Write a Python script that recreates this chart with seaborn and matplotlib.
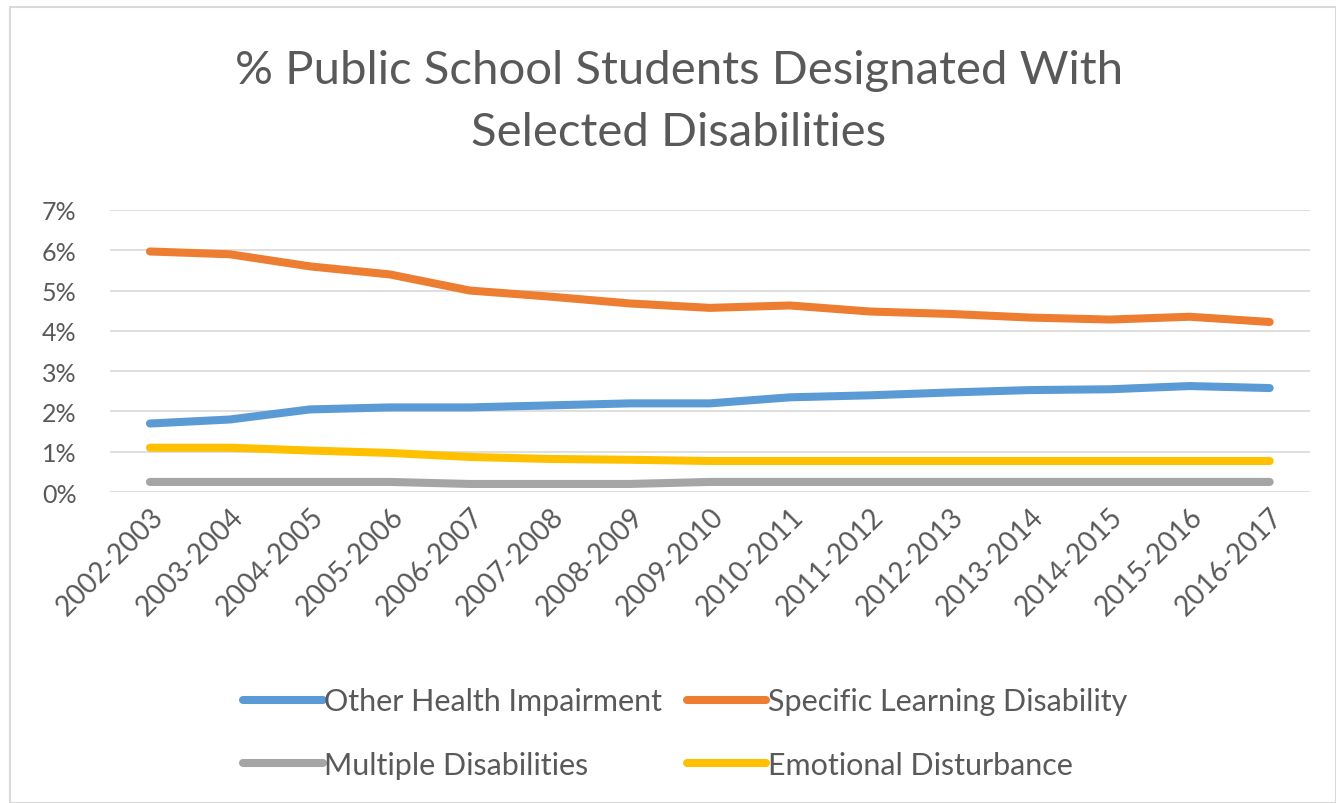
import pandas as pd
import numpy as np
import matplotlib.pyplot as plt
import seaborn as sns
from matplotlib.patches import Rectangle
from matplotlib.ticker import FuncFormatter

# school years on the x axis
years = ['2002-2003', '2003-2004', '2004-2005', '2005-2006', '2006-2007',
         '2007-2008', '2008-2009', '2009-2010', '2010-2011', '2011-2012',
         '2012-2013', '2013-2014', '2014-2015', '2015-2016', '2016-2017']

# % of students
other_health = [1.70, 1.80, 2.05, 2.10, 2.10, 2.15, 2.20, 2.20, 2.35, 2.40,
                2.47, 2.53, 2.55, 2.63, 2.58]
learning_dis = [5.97, 5.90, 5.60, 5.40, 5.00, 4.85, 4.68, 4.57, 4.63, 4.48,
                4.42, 4.33, 4.28, 4.35, 4.22]
multiple_dis = [0.25, 0.25, 0.25, 0.25, 0.20, 0.20, 0.20, 0.25, 0.25, 0.25,
                0.25, 0.25, 0.25, 0.25, 0.25]
emotional = [1.10, 1.10, 1.03, 0.97, 0.87, 0.82, 0.80, 0.77, 0.77, 0.77,
             0.77, 0.77, 0.77, 0.77, 0.77]

series_names = ['Other Health Impairment', 'Specific Learning Disability',
                'Multiple Disabilities', 'Emotional Disturbance']
series_colors = ['#5B9BD5', '#ED7D31', '#A5A5A5', '#FFC000']

# long format for seaborn
frames = []
for name, vals in zip(series_names, [other_health, learning_dis, multiple_dis, emotional]):
    frames.append(pd.DataFrame({'year': years, 'x': np.arange(len(years)),
                                'pct': vals, 'series': name}))
df = pd.concat(frames, ignore_index=True)

sns.set_theme(style='white')
plt.rcParams['font.family'] = ['Lato', 'DejaVu Sans']
text_col = '#595959'

fig = plt.figure(figsize=(13.36, 8.04), dpi=100)
ax = fig.add_axes([0.0823, 0.3868, 0.898, 0.3508])

# chart border
fig.patches.append(Rectangle((10 / 1336, 0), 1 - 10 / 1336, 1 - 8 / 804,
                             transform=fig.transFigure, fill=False,
                             edgecolor='#D9D9D9', linewidth=1.5))

sns.lineplot(data=df, x='x', y='pct', hue='series', hue_order=series_names,
             palette=series_colors, linewidth=5.8, ax=ax, legend=False,
             solid_capstyle='round')

ax.set_xlim(-0.5, len(years) - 0.5)
ax.set_ylim(0, 7)
ax.set_yticks(range(0, 8))
ax.yaxis.set_major_formatter(FuncFormatter(lambda v, p: f'{int(v)}%'))
ax.set_xticks(range(len(years)))
ax.set_xticklabels(years, rotation=45, ha='right', rotation_mode='anchor')
ax.tick_params(axis='both', colors=text_col, length=0)
ax.tick_params(axis='y', labelsize=18, pad=24)
ax.tick_params(axis='x', labelsize=20, pad=8)
ax.set_xlabel('')
ax.set_ylabel('')
ax.grid(axis='y', color='#D9D9D9', linewidth=1.2)
ax.set_axisbelow(True)
for s in ax.spines.values():
    s.set_visible(False)

fig.text(0.508, 0.912, '% Public School Students Designated With',
         ha='center', va='center', fontsize=34, color=text_col)
fig.text(0.508, 0.834, 'Selected Disabilities',
         ha='center', va='center', fontsize=34, color=text_col)

# legend: two rows, two columns (column-major order)
handles = {n: plt.Line2D([], [], color=c, linewidth=5.8, solid_capstyle='round')
           for n, c in zip(series_names, series_colors)}
order = ['Other Health Impairment', 'Multiple Disabilities',
         'Specific Learning Disability', 'Emotional Disturbance']
fig.legend([handles[n] for n in order], order, ncol=2, loc='center',
           bbox_to_anchor=(0.513, 0.087), frameon=False, fontsize=22,
           labelcolor=text_col, handlelength=2.6, handletextpad=0.05,
           columnspacing=0.8, labelspacing=1.15)

fig.savefig('out.png', dpi=100)
